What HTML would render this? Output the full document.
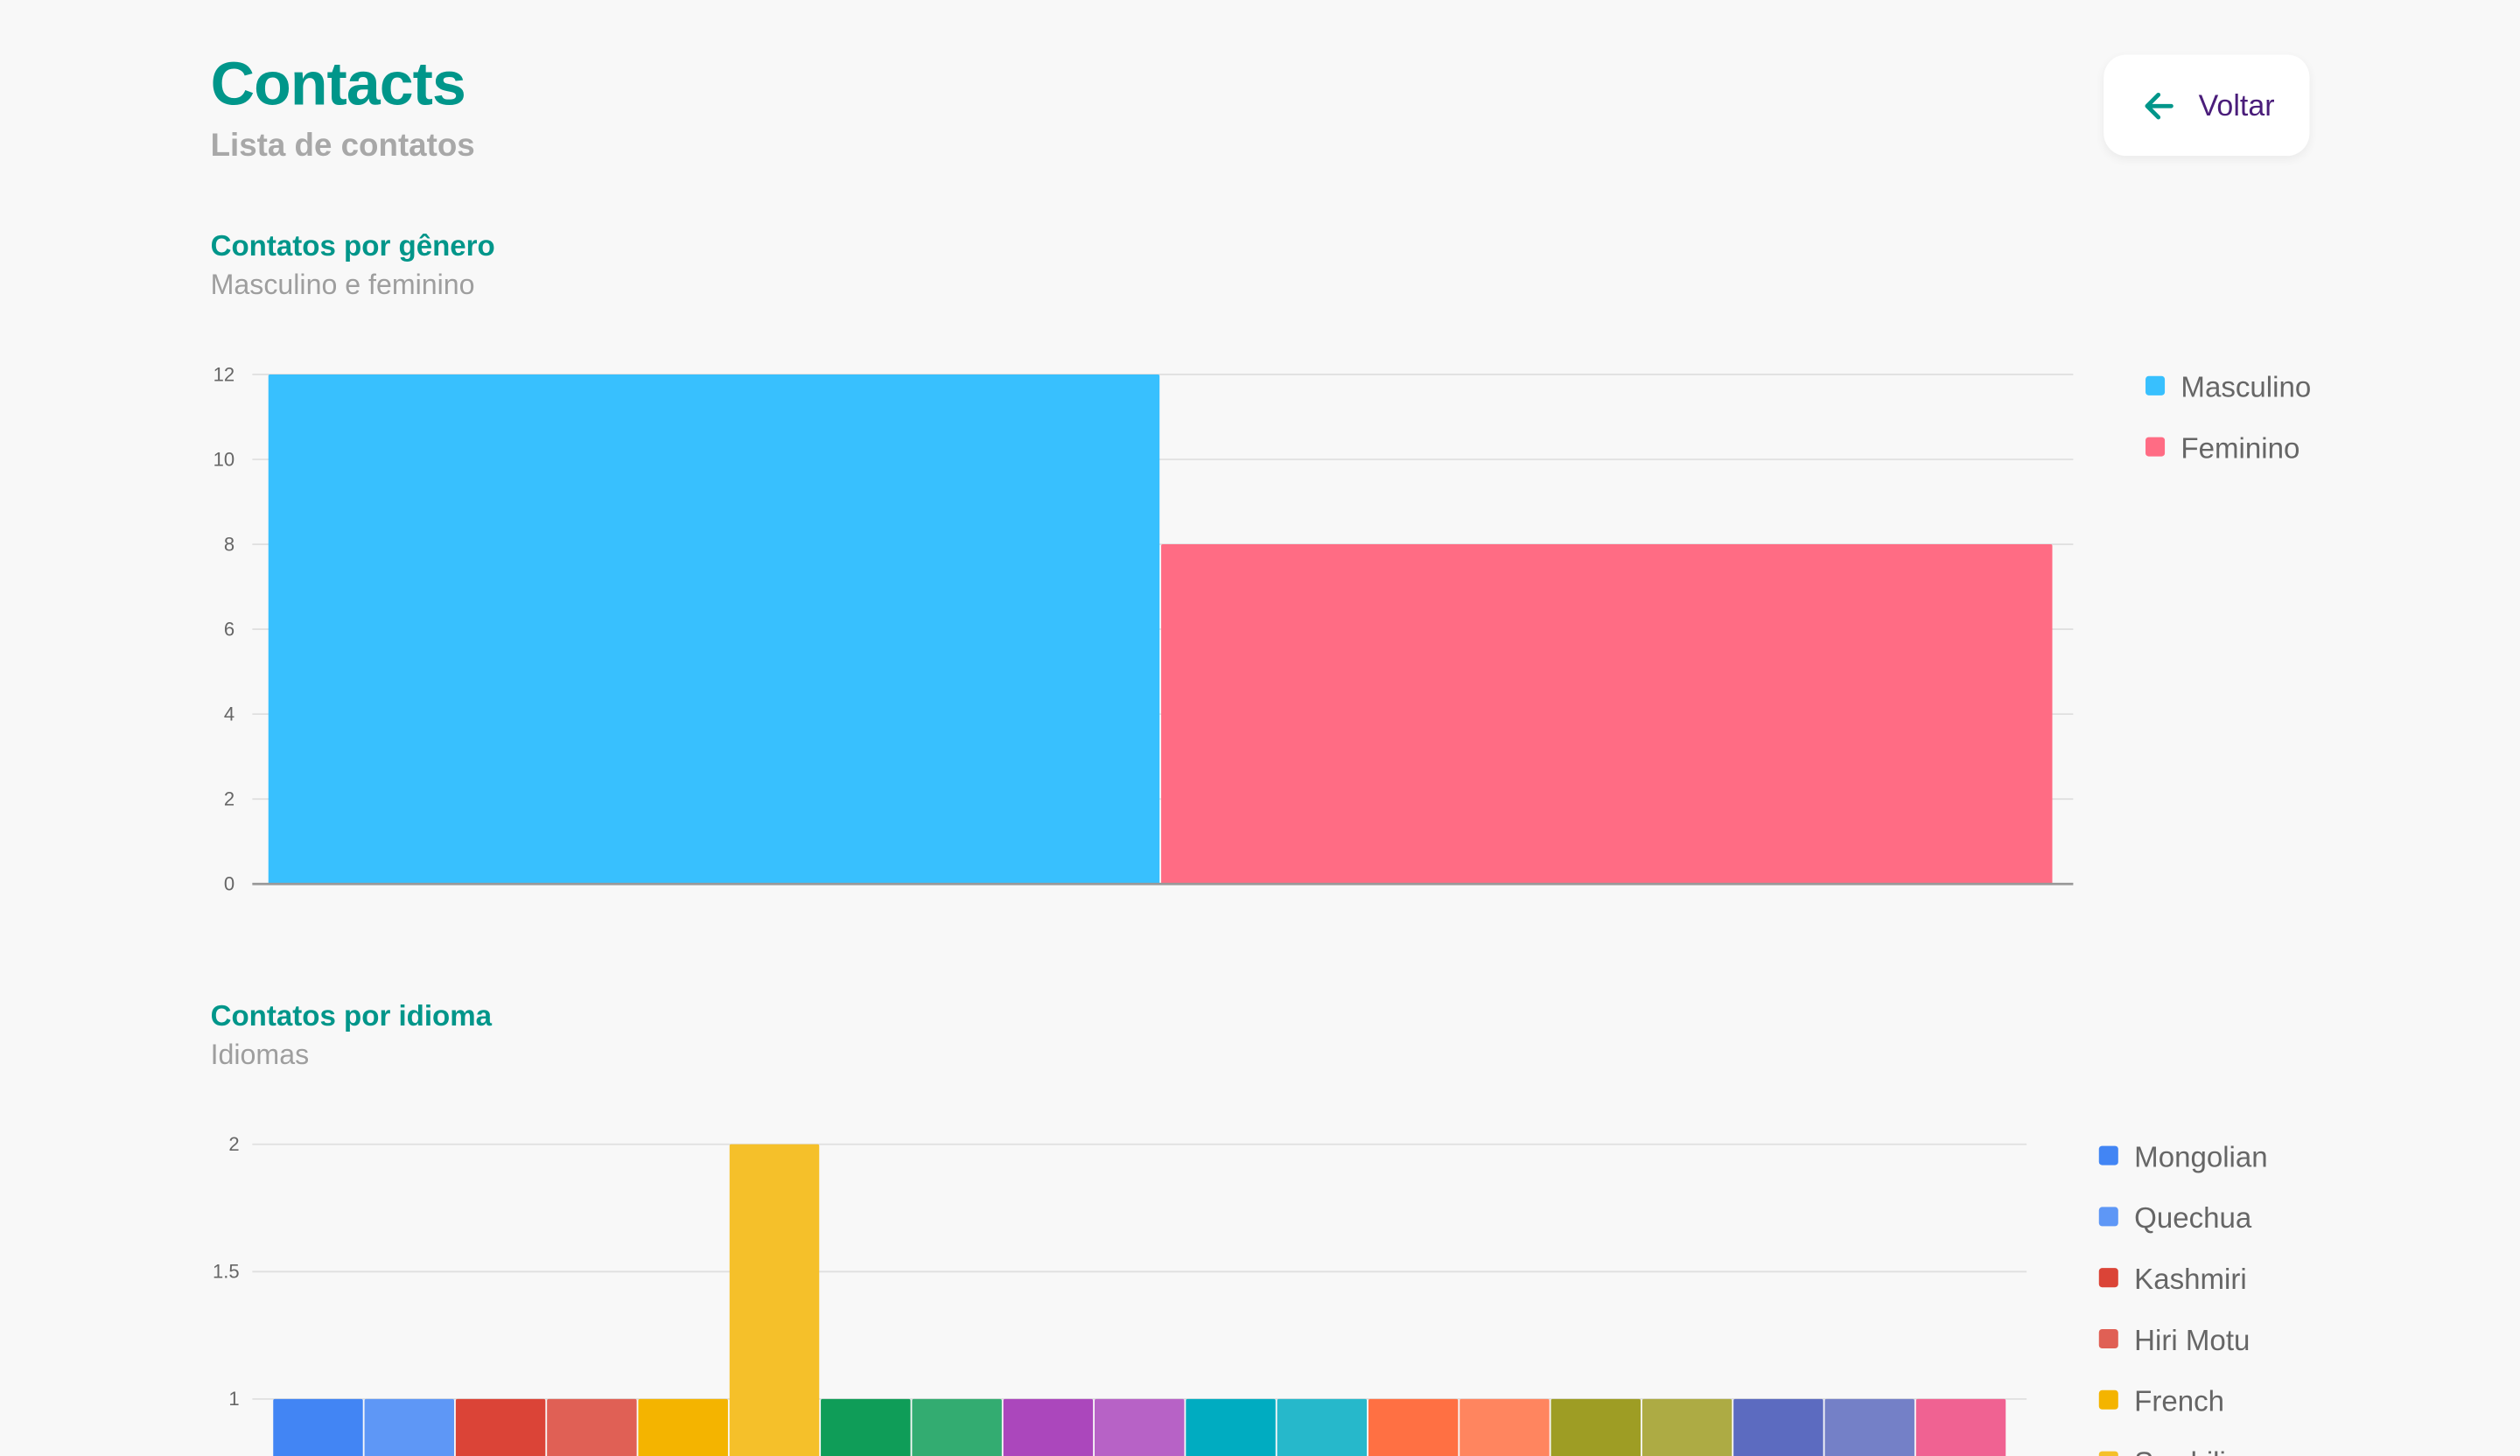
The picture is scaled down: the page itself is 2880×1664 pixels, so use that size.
<!DOCTYPE html>
<html><head><meta charset="utf-8"><style>
html,body{margin:0;padding:0;width:2880px;height:1664px;overflow:hidden;background:#f8f8f8;font-family:"Liberation Sans",sans-serif}
#wrap{position:absolute;left:0;top:0;width:1568px;height:906px;overflow:hidden;transform:scale(1.83673);transform-origin:0 0}
.abs{position:absolute;white-space:nowrap}
</style></head><body>
<div id="wrap">
<div class="abs" style="left:131px;top:32px;font-size:38px;font-weight:bold;color:#00968a;letter-spacing:-0.5px">Contacts</div>
<div class="abs" style="left:131px;top:80px;font-size:20px;font-weight:bold;color:#a8a8a8">Lista de contatos</div>
<div class="abs" style="left:1309px;top:34px;width:128px;height:63px;background:#fff;border-radius:14px;box-shadow:0 2px 6px rgba(0,0,0,0.06)">
  <svg style="position:absolute;left:24px;top:22px" width="20" height="20" viewBox="0 0 20 20"><path d="M18 10H3M10 3L3 10l7 7" fill="none" stroke="#00968a" stroke-width="2.6" stroke-linecap="round" stroke-linejoin="round"/></svg>
  <span class="abs" style="left:59px;top:21px;font-size:18.5px;color:#4a1d7a">Voltar</span>
</div>
<div class="abs" style="left:131px;top:143px;font-size:18px;font-weight:bold;color:#00968a">Contatos por gênero</div>
<div class="abs" style="left:131px;top:167px;font-size:17.5px;color:#9e9e9e">Masculino e feminino</div>
<div class="abs" style="left:131px;top:622px;font-size:18px;font-weight:bold;color:#00968a">Contatos por idioma</div>
<div class="abs" style="left:131px;top:646px;font-size:17.5px;color:#9e9e9e">Idiomas</div>
<svg id="c1" class="abs" style="left:0;top:0" width="1568" height="906"></svg>
<svg id="c2" class="abs" style="left:0;top:0" width="1568" height="906"></svg>
</div>
<script>
const genderCats=["Masculino","Feminino"];
const genderVals=[12,8];
const genderColors=["#38c0fe","#ff6c84"];
const genderTicks=[0,2,4,6,8,10,12];
const langCats=["Mongolian","Quechua","Kashmiri","Hiri Motu","French","Swahili","Tamil","Dutch","Malay","Bislama","Latvian","Pashto","Finnish","Greek","Catalan","Hindi","Korean","Polish","Zulu"];
const langVals=[1,1,1,1,1,2,1,1,1,1,1,1,1,1,1,1,1,1,1];
const langColors=["#4285f4","#5e97f6","#db4437","#e06055","#f4b400","#f5c02a","#0f9d58","#33ac71","#ab47bc","#b762c6","#00acc1","#26b8cb","#ff7043","#ff855f","#9e9d24","#adab44","#5c6bc0","#7480c7","#f06292"];
const langTicks=[0,0.5,1,1.5,2];
const NS="http://www.w3.org/2000/svg";
function mk(svg,tag,attrs){const e=document.createElementNS(NS,tag);for(const k in attrs)e.setAttribute(k,attrs[k]);svg.appendChild(e);return e;}
function chart(svg,cats,vals,colors,ticks,o){
  const y=v=>o.y0-(v-o.min)/(o.max-o.min)*(o.y0-o.yTop);
  ticks.forEach(t=>{
    const g=mk(svg,'line',{x1:o.x0,x2:o.x1,y1:y(t),y2:y(t),stroke:'#e0e0e0','stroke-width':1});
    
    
    const tx=mk(svg,'text',{x:o.labelX,y:y(t)+4,'text-anchor':'end','font-size':12,fill:'#666','font-family':'Liberation Sans, sans-serif'});
    tx.textContent=String(t);
    
    
  });
  const bw=(o.bx1-o.bx0)/cats.length;
  cats.forEach((c,i)=>{
    const r=mk(svg,'rect',{x:o.bx0+i*bw,y:y(vals[i]),width:bw-1,height:y(o.min)-y(vals[i]),fill:colors[i],rx:1});
    
    
  });
  if(o.axis){const a=mk(svg,'line',{x1:o.x0,x2:o.x1,y1:o.y0,y2:o.y0,stroke:'#999','stroke-width':1.5});
    
    }
  cats.forEach((c,i)=>{
    const ly=o.legY+i*38;
    const s=mk(svg,'rect',{x:o.legX,y:ly-6,width:12,height:12,rx:2,fill:colors[i]});
    
    
    const t=mk(svg,'text',{x:o.legX+22,y:ly+7,'font-size':18,fill:'#666','font-family':'Liberation Sans, sans-serif'});
    t.textContent=c;
    
    
  });
}
chart(document.getElementById('c1'),genderCats,genderVals,genderColors,genderTicks,
 {x0:157,x1:1290,y0:550,yTop:233,min:0,max:12,labelX:146,bx0:167,bx1:1278,legX:1335,legY:240,axis:true});
chart(document.getElementById('c2'),langCats,langVals,langColors,langTicks,
 {x0:157,x1:1261,y0:1029,yTop:712,min:0,max:2,labelX:149,bx0:170,bx1:1249,legX:1306,legY:719,axis:true});
</script>
</body></html>
